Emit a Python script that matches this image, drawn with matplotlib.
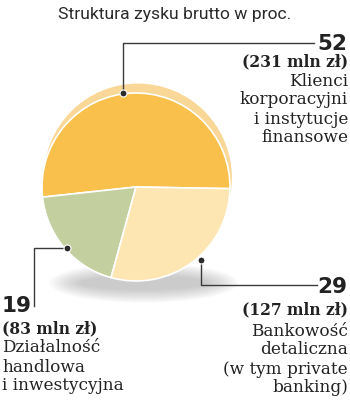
import matplotlib
matplotlib.use("Agg")
import matplotlib.pyplot as plt
from matplotlib.patches import Ellipse, Circle

title = "Struktura zysku brutto w proc."
values = [52, 19, 29]
amounts = ["(231 mln zł)", "(83 mln zł)", "(127 mln zł)"]
descriptions = [
    ["Klienci", "korporacyjni", "i instytucje", "finansowe"],
    ["Działalność", "handlowa", "i inwestycyjna"],
    ["Bankowość", "detaliczna", "(w tym private", "banking)"],
]
colors = ["#F9C04C", "#C3CF9F", "#FDE6B2"]

W, H = 350, 400
fig = plt.figure(figsize=(W / 100, H / 100), dpi=100)
fig.patch.set_facecolor("white")

# pie axes (pixel geometry)
cx, cy, r = 136, 187, 94
ext = 1.3
pax = fig.add_axes([(cx - ext * r) / W, (H - cy - ext * r) / H, 2 * ext * r / W, 2 * ext * r / H])
pax.set_xlim(-ext, ext)
pax.set_ylim(-ext, ext)
pax.axis("off")
pax.set_zorder(1)

# soft shadow
for i in range(12):
    pax.add_patch(Ellipse((0.08, -1.02), 2.0 - i * 0.06, 0.42 - i * 0.025,
                          facecolor="#9a9a9a", alpha=0.05, lw=0, zorder=0))
# back (rim) layer
pax.add_patch(Circle((0.02, 0.1), 1.0, facecolor="#F9D796", lw=0, zorder=1))

wedges, _ = pax.pie(values, colors=colors, startangle=-1, counterclock=True,
                    radius=1.0, wedgeprops=dict(edgecolor="white", linewidth=1.2))
for w in wedges:
    w.set_zorder(2)
pax.set_xlim(-ext, ext)
pax.set_ylim(-ext, ext)
pax.set_aspect("auto")

# overlay axes in pixel coords
ax = fig.add_axes([0, 0, 1, 1])
ax.set_xlim(0, W)
ax.set_ylim(H, 0)
ax.axis("off")
ax.patch.set_alpha(0)
ax.set_zorder(2)

line_c = "#3a3a3a"
txt_c = "#222222"

ax.text(175, 14, title, ha="center", va="center", fontsize=12.6,
        family="Roboto", fontweight="normal", color="#2a2a2a")

# leader lines
ax.plot([123, 123, 314], [93, 43, 43], color=line_c, lw=1)
ax.plot([67, 34, 34], [248, 248, 306], color=line_c, lw=1)
ax.plot([201, 201, 317], [260, 285, 285], color=line_c, lw=1)
for (x, y) in [(123, 93), (67, 248), (201, 260)]:
    ax.plot(x, y, "o", color="#2a2a2a", ms=5, mec="white", mew=0.8)

num_kw = dict(fontsize=15.5, fontweight="bold", family="DejaVu Sans", color=txt_c, va="center")
amt_kw = dict(fontsize=11.2, fontweight="bold", family="DejaVu Serif", color=txt_c, va="center")
desc_kw = dict(fontsize=12.2, family="DejaVu Serif", color=txt_c, va="center")

# top right label
ax.text(347, 44, str(values[0]), ha="right", **num_kw)
ax.text(348, 62, amounts[0], ha="right", **amt_kw)
for i, s in enumerate(descriptions[0]):
    ax.text(348, 81 + i * 19, s, ha="right", **desc_kw)

# bottom left label
ax.text(2, 306, str(values[1]), ha="left", **num_kw)
ax.text(2, 329, amounts[1], ha="left", **amt_kw)
for i, s in enumerate(descriptions[1]):
    ax.text(2, 348 + i * 19, s, ha="left", **desc_kw)

# bottom right label
ax.text(347, 287, str(values[2]), ha="right", **num_kw)
ax.text(348, 310, amounts[2], ha="right", **amt_kw)
for i, s in enumerate(descriptions[2]):
    ax.text(348, 331 + i * 19, s, ha="right", **desc_kw)

fig.savefig("out.png", dpi=100, facecolor="white")
